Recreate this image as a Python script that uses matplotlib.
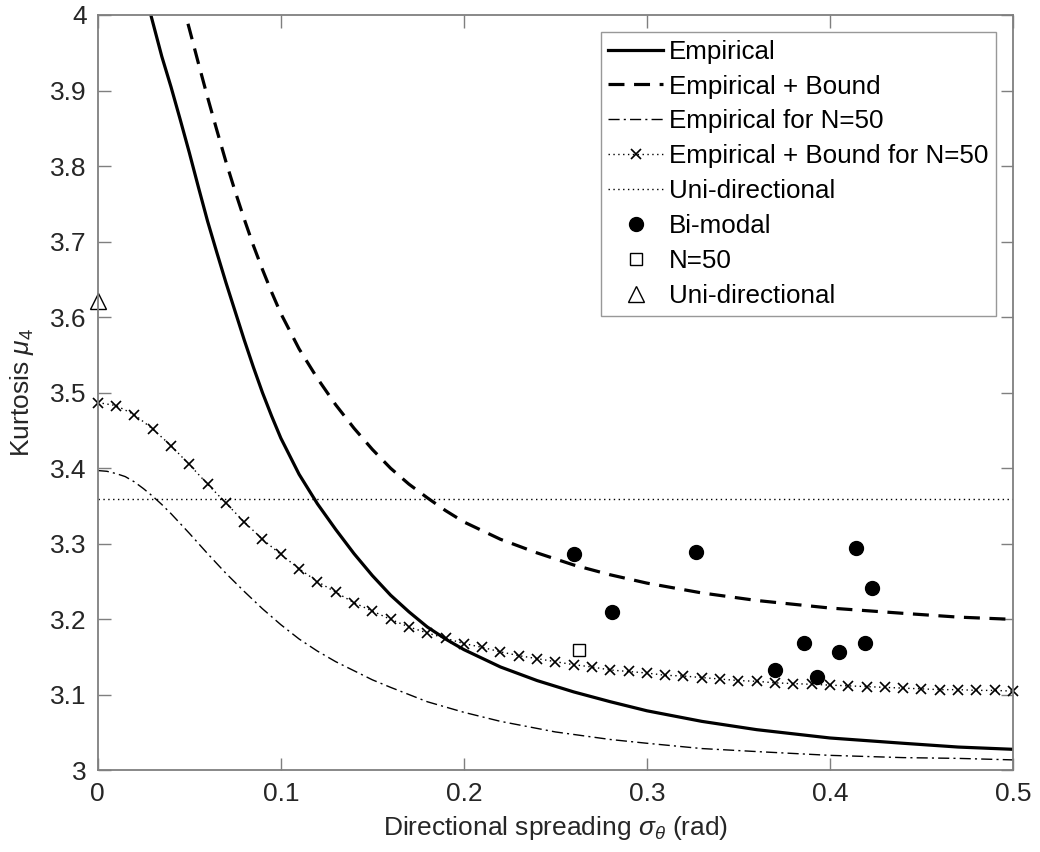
import matplotlib
matplotlib.use('Agg')
import matplotlib.pyplot as plt

plt.rcParams['font.family'] = ['Liberation Sans', 'DejaVu Sans']
plt.rcParams['mathtext.fontset'] = 'custom'
plt.rcParams['mathtext.it'] = 'Liberation Sans:italic'
plt.rcParams['mathtext.rm'] = 'Liberation Sans'

# Empirical
emp_x = [0.020, 0.025, 0.029, 0.035, 0.040, 0.045, 0.050, 0.055, 0.060, 0.065, 0.070,
         0.075, 0.080, 0.085, 0.090, 0.095, 0.100, 0.110, 0.120, 0.130, 0.140, 0.150,
         0.160, 0.170, 0.180, 0.190, 0.200, 0.220, 0.240, 0.260, 0.280, 0.300, 0.330,
         0.360, 0.400, 0.440, 0.470, 0.500]
emp_y = [4.100, 4.040, 4.000, 3.945, 3.905, 3.862, 3.818, 3.772, 3.727, 3.686, 3.646,
         3.608, 3.570, 3.534, 3.500, 3.469, 3.440, 3.392, 3.353, 3.319, 3.287, 3.258,
         3.232, 3.210, 3.190, 3.174, 3.160, 3.137, 3.119, 3.104, 3.091, 3.079, 3.065,
         3.054, 3.043, 3.036, 3.031, 3.028]

# Empirical + Bound
bnd_x = [0.045, 0.048, 0.050, 0.055, 0.060, 0.065, 0.070, 0.075, 0.080, 0.085, 0.090,
         0.095, 0.100, 0.110, 0.120, 0.130, 0.140, 0.150, 0.160, 0.170, 0.180, 0.190,
         0.200, 0.220, 0.240, 0.260, 0.280, 0.300, 0.330, 0.360, 0.400, 0.440, 0.470,
         0.500]
bnd_y = [4.030, 4.000, 3.982, 3.936, 3.891, 3.848, 3.806, 3.767, 3.730, 3.695, 3.663,
         3.633, 3.605, 3.558, 3.519, 3.484, 3.453, 3.425, 3.400, 3.379, 3.361, 3.344,
         3.329, 3.306, 3.288, 3.272, 3.259, 3.248, 3.235, 3.225, 3.215, 3.208, 3.203,
         3.200]

# Empirical for N=50
n50_x = [0.000, 0.005, 0.010, 0.015, 0.020, 0.025, 0.030, 0.035, 0.040, 0.050, 0.060,
         0.070, 0.080, 0.090, 0.100, 0.110, 0.120, 0.130, 0.140, 0.150, 0.160, 0.180,
         0.200, 0.220, 0.250, 0.280, 0.300, 0.330, 0.360, 0.400, 0.440, 0.470, 0.500]
n50_y = [3.397, 3.396, 3.393, 3.389, 3.382, 3.373, 3.363, 3.352, 3.340, 3.314, 3.287,
         3.261, 3.237, 3.214, 3.193, 3.174, 3.158, 3.144, 3.132, 3.120, 3.110, 3.091,
         3.077, 3.065, 3.051, 3.041, 3.036, 3.029, 3.025, 3.020, 3.017, 3.016, 3.014]

# Empirical + Bound for N=50 (one value every 0.01)
bn50_x = [i / 100 for i in range(51)]
bn50_y = [3.487, 3.483, 3.471, 3.452, 3.430, 3.405, 3.379, 3.354, 3.329, 3.306,
          3.286, 3.267, 3.250, 3.236, 3.222, 3.211, 3.200, 3.190, 3.182, 3.175,
          3.168, 3.163, 3.157, 3.152, 3.148, 3.144, 3.140, 3.137, 3.133, 3.131,
          3.129, 3.126, 3.125, 3.123, 3.121, 3.119, 3.118, 3.116, 3.115, 3.114,
          3.113, 3.112, 3.111, 3.110, 3.109, 3.108, 3.107, 3.107, 3.106, 3.106,
          3.105]

uni_level = 3.359

bim_x = [0.260, 0.281, 0.327, 0.370, 0.386, 0.393, 0.405, 0.414, 0.419, 0.423]
bim_y = [3.287, 3.210, 3.289, 3.133, 3.169, 3.124, 3.157, 3.294, 3.169, 3.241]

sq_x = [0.263]
sq_y = [3.159]

tri_x = [0.0]
tri_y = [3.621]

fig = plt.figure(figsize=(10.4, 8.52), dpi=100)
ax = fig.add_axes([0.094, 0.0957, 0.880, 0.8867])

ax.plot(emp_x, emp_y, color='k', lw=2.3, label='Empirical')
ax.plot(bnd_x, bnd_y, color='k', lw=2.3, dashes=(5, 3), label='Empirical + Bound')
ax.plot(n50_x, n50_y, color='k', lw=1.0, dashes=(8, 3, 1.5, 3), label='Empirical for N=50')
ax.plot(bn50_x, bn50_y, color='k', lw=1.0, ls=(0, (1, 2.5)), marker='x', ms=7, mew=1.2,
        clip_on=False, label='Empirical + Bound for N=50')
ax.axhline(uni_level, color='k', lw=1.0, ls=(0, (1, 2.5)), label='Uni-directional')
ax.plot(bim_x, bim_y, 'o', color='k', ms=10, label='Bi-modal')
ax.plot(sq_x, sq_y, 's', mfc='white', mec='k', ms=9, mew=1.0, label='N=50')
ax.plot(tri_x, tri_y, '^', mfc='white', mec='k', ms=12, mew=1.0, clip_on=False,
        label='Uni-directional')

ax.set_xlim(0, 0.5)
ax.set_ylim(3, 4)
ax.set_xticks([0, 0.1, 0.2, 0.3, 0.4, 0.5])
ax.set_xticklabels(['0', '0.1', '0.2', '0.3', '0.4', '0.5'])
ax.set_yticks([3, 3.1, 3.2, 3.3, 3.4, 3.5, 3.6, 3.7, 3.8, 3.9, 4])
ax.set_yticklabels(['3', '3.1', '3.2', '3.3', '3.4', '3.5', '3.6', '3.7', '3.8', '3.9', '4'])

gray = '#262626'
for s in ax.spines.values():
    s.set_color('#7f7f7f')
    s.set_linewidth(1.3)
ax.tick_params(direction='in', length=9, width=1.0, color='#7f7f7f', labelcolor=gray,
               labelsize=19, top=True, right=True, pad=8)

ax.set_xlabel(r'Directional spreading $\sigma_\theta$ (rad)', fontsize=19, color=gray,
              labelpad=6)
ax.set_ylabel(r'Kurtosis $\mu_4$', fontsize=19, color=gray, labelpad=10)

leg = ax.legend(loc='upper right', fontsize=18.7, frameon=True, fancybox=False,
                handlelength=2.1, handletextpad=0.23, labelspacing=0.42,
                borderpad=0.3, borderaxespad=0.65, numpoints=1)
leg.get_frame().set_edgecolor('#7f7f7f')
leg.get_frame().set_linewidth(1.0)

fig.savefig('out.png', dpi=100, facecolor='white')
